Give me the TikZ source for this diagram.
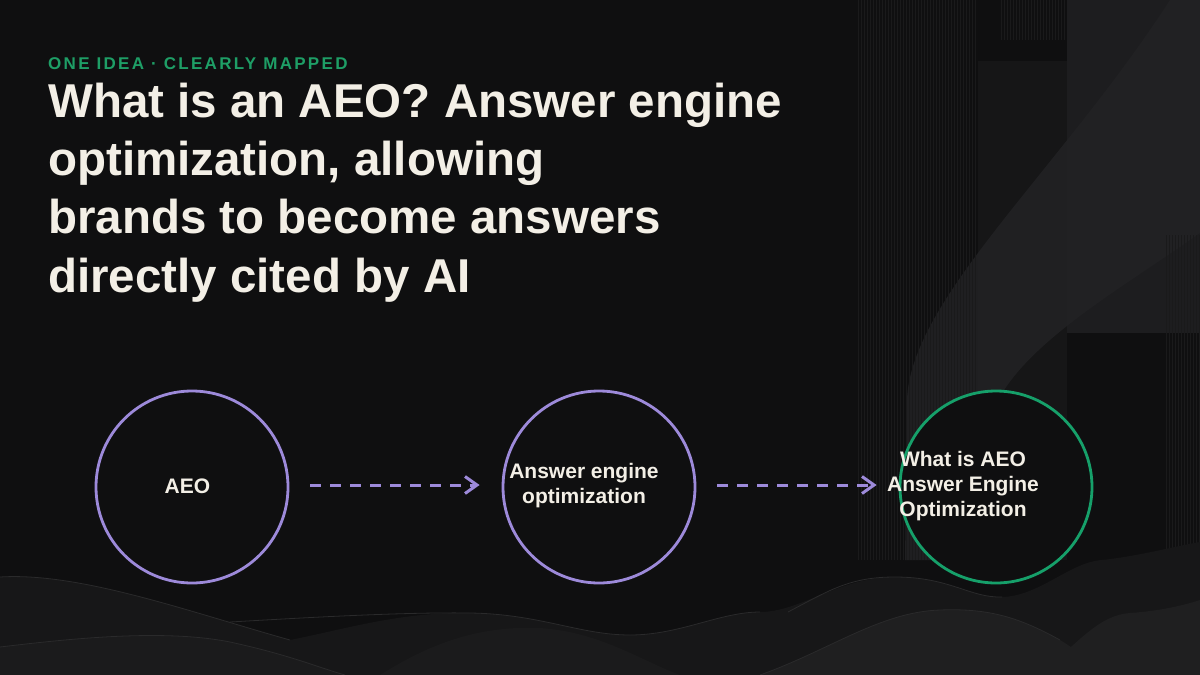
\documentclass[tikz,border=0pt]{standalone}
\usepackage{fontspec}
\setmainfont{Liberation Sans}
\newfontfamily\trackedfont[LetterSpace=13.5]{Liberation Sans}
\usetikzlibrary{arrows.meta}
\definecolor{bg}{HTML}{0F0F10}
\definecolor{panelA}{HTML}{161617}
\definecolor{panelB}{HTML}{1D1D1F}
\definecolor{swoosh}{HTML}{222224}
\definecolor{stripe}{HTML}{1A1A1B}
\definecolor{hillA}{HTML}{171718}
\definecolor{hillB}{HTML}{1B1B1C}
\definecolor{hillC}{HTML}{1F1F20}
\definecolor{hillEdge}{HTML}{2A2A2B}
\definecolor{lavender}{HTML}{9D8ADA}
\definecolor{mint}{HTML}{16A06A}
\definecolor{kicker}{HTML}{1E9E66}
\definecolor{ink}{HTML}{F3EFE6}
\tikzset{
  titleline/.style={anchor=base west, inner sep=0, text=ink, font=\bfseries\fontsize{47.5}{58}\selectfont},
  stage/.style={shape=circle, minimum size=192pt, inner sep=0, line width=2.8pt, fill=bg},
  stagetext/.style={align=center, inner sep=0, text=ink, font=\bfseries\fontsize{21}{25}\selectfont},
  flow/.style={draw=lavender, line width=3pt, dash pattern=on 11pt off 9pt,
    -{Straight Barb[length=12pt, width=17pt]}, shorten <=21pt, shorten >=22pt},
  stripeline/.style={stripe, line width=0.9pt},
  hilledge/.style={hillEdge, line width=0.8pt}
}
\begin{document}
\begin{tikzpicture}[x=1pt, y=-1pt]
\useasboundingbox (0,0) rectangle (1200,675);
\fill[bg] (0,0) rectangle (1200,675);
% right-side panels
\fill[panelA] (978,61) rectangle (1067,560);
\fill[panelB] (1067,0) rectangle (1200,333);
\fill[swoosh, opacity=0.85] (1170,0) -- (1200,0) -- (1200,233)
  .. controls (1120,290) and (1010,350) .. (990,420) -- (985,560) -- (905,560)
  -- (907,400) .. controls (910,300) and (1060,170) .. (1170,0) -- cycle;
% vertical stripes
\foreach \x in {858,861,...,976} \draw[stripeline] (\x,0) -- (\x,560);
\foreach \x in {1001,1004,...,1066} \draw[stripeline] (\x,0) -- (\x,40);
\foreach \x in {1166,1169,...,1199} \draw[stripeline] (\x,235) -- (\x,560);
% bottom hills
\fill[hillA] (0,675) -- (0,577) .. controls (80,572) and (190,612) .. (290,640)
  .. controls (350,628) and (400,612) .. (470,613) .. controls (540,614) and (580,635) .. (630,635)
  .. controls (680,635) and (720,612) .. (760,612) .. controls (800,612) and (840,577) .. (895,577)
  .. controls (950,577) and (970,598) .. (1002,597) .. controls (1040,596) and (1070,562) .. (1102,560)
  .. controls (1140,556) and (1180,545) .. (1200,542) -- (1200,675) -- cycle;
\draw[hilledge] (0,577) .. controls (80,572) and (190,612) .. (290,640);
\draw[hilledge] (230,622) .. controls (300,618) and (400,612) .. (470,613) .. controls (540,614) and (580,635) .. (630,635)
  .. controls (680,635) and (720,612) .. (760,612);
\draw[hilledge] (788,612) .. controls (830,590) and (850,577) .. (895,577) .. controls (950,577) and (970,598) .. (1002,597);
\fill[hillB] (0,675) -- (0,647) .. controls (60,640) and (160,628) .. (230,642)
  .. controls (290,655) and (320,668) .. (345,675) -- cycle;
\fill[hillB] (380,675) .. controls (420,650) and (470,625) .. (540,628) .. controls (600,632) and (640,660) .. (680,675) -- cycle;
\fill[hillC] (760,675) .. controls (830,650) and (880,612) .. (940,610)
  .. controls (990,608) and (1020,618) .. (1060,640) .. controls (1080,652) and (1090,662) .. (1100,675) -- cycle;
\fill[hillC] (1040,675) .. controls (1080,640) and (1100,615) .. (1130,613)
  .. controls (1160,611) and (1185,605) .. (1200,600) -- (1200,675) -- cycle;
\draw[hilledge] (0,647) .. controls (60,640) and (160,628) .. (230,642) .. controls (290,655) and (320,668) .. (345,675);
\draw[hilledge] (760,675) .. controls (830,650) and (880,612) .. (940,610) .. controls (990,608) and (1020,618) .. (1060,640);
% kicker and title
\node[anchor=base west, inner sep=0, text=kicker, font=\trackedfont\bfseries\fontsize{17}{20}\selectfont]
  (kicker) at (48,69) {ONE IDEA · CLEARLY MAPPED};
\node[titleline] (title1) at (48,117) {What is an AEO? Answer engine};
\node[titleline] (title2) at (48,175.3) {optimization, allowing};
\node[titleline] (title3) at (48,233.7) {brands to become answers};
\node[titleline] (title4) at (48,292) {directly cited by AI};
% stages
\node[stage, draw=lavender] (c1) at (192,487) {};
\node[stage, draw=lavender] (c2) at (599,487) {};
\node[stage, draw=mint] (c3) at (996,487) {};
\node[stagetext] (t1) at (187.5,486) {AEO};
\node[stagetext] (t2) at (584,486) {Answer engine\\optimization};
\node[stagetext] (t3) at (963,486) {What is AEO\\Answer Engine\\Optimization};
% connectors
\draw[flow] ([yshift=2pt]c1.east) -- ([yshift=2pt]c2.west);
\draw[flow] ([yshift=2pt]c2.east) -- ([yshift=2pt]c3.west);
\end{tikzpicture}
\end{document}
